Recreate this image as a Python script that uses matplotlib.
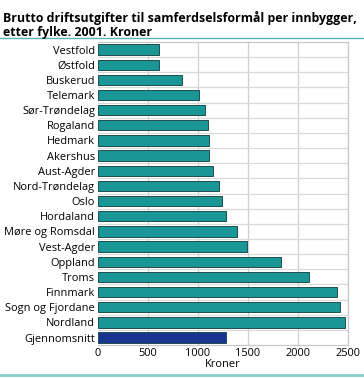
import numpy as np
from matplotlib import pyplot as plt
from matplotlib.lines import Line2D

plt.rcParams['font.family'] = ['Open Sans', 'DejaVu Sans']

# 数据
fylker = ['Vestfold', 'Østfold', 'Buskerud', 'Telemark', 'Sør-Trøndelag',
          'Rogaland', 'Hedmark', 'Akershus', 'Aust-Agder', 'Nord-Trøndelag',
          'Oslo', 'Hordaland', 'Møre og Romsdal', 'Vest-Agder', 'Oppland',
          'Troms', 'Finnmark', 'Sogn og Fjordane', 'Nordland', 'Gjennomsnitt']
kroner = [610, 610, 837, 1010, 1067, 1097, 1107, 1107, 1150, 1207,
          1240, 1277, 1393, 1487, 1833, 2107, 2393, 2423, 2467, 1283]
xticks = [0, 500, 1000, 1500, 2000, 2500]

fig = plt.figure(figsize=(3.64, 3.78), dpi=100)
ax = fig.add_axes([0.269, 0.087, 0.687, 0.802])

colors = ['#1a9696'] * (len(fylker) - 1) + ['#1a3391']
y = np.arange(len(fylker))
ax.barh(y, kroner, height=0.68, color=colors, edgecolor='#1d4f4f',
        linewidth=0.7, zorder=3)

ax.set_ylim(len(fylker) - 0.5, -0.5)
ax.set_xlim(0, 2500)
ax.set_yticks(y)
ax.set_yticklabels(fylker, fontsize=7.9)
ax.set_xticks(xticks)
ax.set_xticklabels([str(t) for t in xticks], fontsize=7.9)
ax.tick_params(length=0, pad=2)
ax.set_xlabel('Kroner', fontsize=7.9, labelpad=0)

# 网格
for t in xticks[1:]:
    ax.axvline(t, color='#d0d0d0', linewidth=0.9, zorder=1)
for b in np.arange(len(fylker) - 1) + 0.5:
    ax.axhline(b, color='#d9d9d9', linewidth=0.9, zorder=1)
for s in ax.spines.values():
    s.set_color('#c8c8c8')
    s.set_linewidth(0.9)
ax.spines['left'].set_visible(False)

fig.text(0.008, 0.972, 'Brutto driftsutgifter til samferdselsformål per innbygger,\n'
         'etter fylke. 2001. Kroner', ha='left', va='top', fontsize=8.9,
         fontweight='bold', linespacing=1.1)

fig.add_artist(Line2D([0.0, 1.0], [0.9, 0.9], color='#5ab4b4', linewidth=1.0))
fig.add_artist(Line2D([0.0, 1.0], [0.008, 0.008], color='#8ccccc', linewidth=2.0))

fig.savefig('out.png', dpi=100, facecolor='white')
